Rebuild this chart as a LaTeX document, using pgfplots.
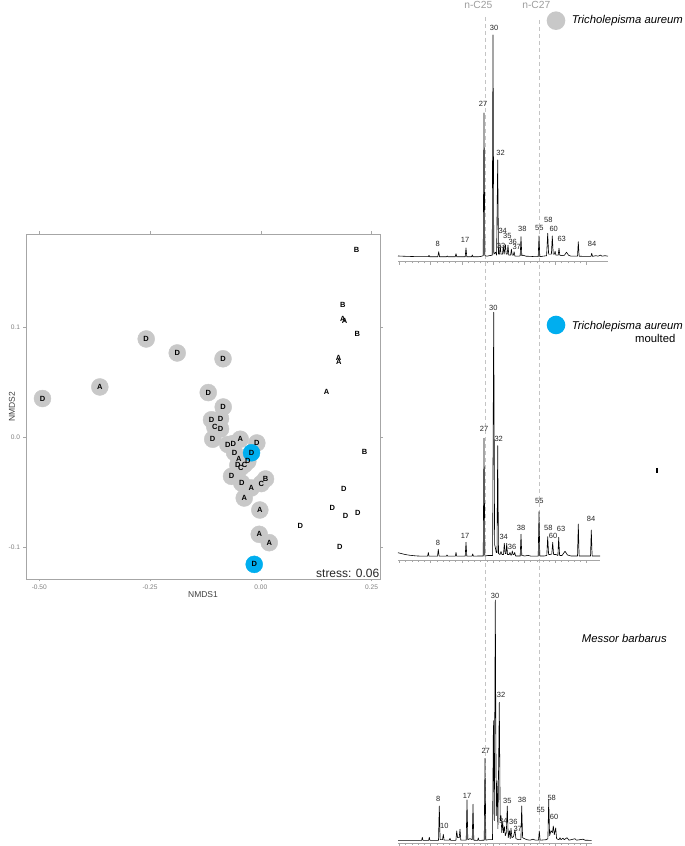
\documentclass[border=0pt]{standalone}
\usepackage{fontspec}
\setmainfont{Liberation Sans}
\usepackage{pgfplots}
\usepackage{pgfplotstable}
\pgfplotsset{compat=1.18}
\definecolor{ptgray}{HTML}{C8C8C8}
\definecolor{ptblue}{HTML}{00AEEF}
\definecolor{framec}{HTML}{A6A6A6}
\definecolor{ticklab}{HTML}{7F7F7F}
\definecolor{dashc}{HTML}{C4C4C4}
\definecolor{labc}{HTML}{404040}

\pgfplotstableread{
x y l
-0.4928 0.0355 D
-0.3634 0.0460 A
-0.2587 0.0896 D
-0.1887 0.0769 D
-0.0853 0.0716 D
-0.1187 0.0409 D
-0.0849 0.0278 D
-0.1113 0.0162 D
-0.0910 0.0173 D
-0.1038 0.0096 C
-0.0910 0.0078 D
-0.1086 -0.0015 D
-0.0745 -0.0063 D
-0.0623 -0.0054 D
-0.0465 -0.0015 A
-0.0090 -0.0049 D
-0.0594 -0.0135 D
-0.0497 -0.0195 A
-0.0519 -0.0252 D
-0.0451 -0.0273 C
-0.0368 -0.0245 C
-0.0293 -0.0215 D
-0.0661 -0.0352 D
-0.0429 -0.0414 D
-0.0217 -0.0458 A
0.0009 -0.0418 C
0.0106 -0.0376 B
-0.0375 -0.0549 A
-0.0023 -0.0658 A
-0.0036 -0.0879 A
0.0190 -0.0955 A
}\graypts

\pgfplotstableread{
x y l
-0.0210 -0.0138 D
-0.0149 -0.1152 D
}\bluepts

\pgfplotstableread{
x y l
0.2160 0.1703 B
0.1851 0.1203 B
0.1851 0.1082 A
0.1889 0.1062 A
0.2176 0.0939 B
0.1754 0.0724 A
0.1761 0.0685 A
0.1483 0.0418 A
0.2341 -0.0127 B
0.1874 -0.0467 D
0.1612 -0.0640 D
0.1912 -0.0709 D
0.2190 -0.0685 D
0.0889 -0.0804 D
0.1783 -0.0995 D
}\plainpts

\pgfplotstableread{
x h
398 1.2
405 0.9
415 0.6
428.2 0.5
429 1.8
429.8 0.4
437.8 0.4
438.7 5.5
439.6 0.4
446.5 0.4
447.3 1.2
448 0.4
455.2 0.4
456 3.5
456.8 0.4
465.2 0.4
466 9.2
466.8 0.4
471.6 0.4
472.3 2.2
473 0.4
479 0.5
481 0.8
483.2 1.5
484 144.2
484.8 1.5
487 1
489 1.5
492.2 2
493 222.2
493.8 3
495.5 5
496.6 2
497.7 97.2
498.5 3
499.5 3
500.2 12
501 3
502.5 3
503.3 11
504.1 3
505.4 12.5
506.2 3
507.2 3
508 12
508.8 2
510.6 2
511.4 8
512.2 2
513.4 2
514.1 5.5
514.9 1
519 1
520.2 1.5
521 20.5
521.8 1.5
523 2
526 1
531 0.8
535 0.5
538.2 0.5
539 21.2
539.8 0.5
543 1
546.6 1.5
547.7 23.9
548.6 3
550 3
551.4 3
552.3 21.2
553.2 3
554.4 3
555.1 6
555.9 2
558.2 2
559 8.9
559.8 2
562 1.5
564.5 2
566.5 5
568.5 2
571 1
577.5 1
578.3 15.5
579.1 1
584 0.8
590.9 0.8
591.7 3.9
592.5 0.8
596 1.5
598 1
600.5 2
602 1
605 1.5
608 1
}\chromA

\pgfplotstableread{
x h l
437.7 13.5 8
465 17.5 17
483 153.5 27
494 229.5 30
500.5 104.5 32
501 11.5 33
502.7 26.5 34
507.3 20.8 35
512.7 15 36
516.7 9.8 37
522.3 28.5 38
539.3 28.8 55
548.3 36.8 58
553.7 28.5 60
561.7 18.2 63
592 13.2 84
}\labA

\pgfplotstableread{
x h
398 3.8
401 3
405 2
410 1.2
416 0.6
422 0.3
427.6 0.3
428.3 4
429 0.3
437.5 0.3
438.3 7.2
439.1 0.3
446.3 0.3
447 1.5
447.7 0.3
455.3 0.3
456 4
456.7 0.3
465.2 0.3
466 14.2
466.8 0.3
472 0.3
472.7 2.5
473.4 0.3
479 0.5
483.2 0.5
484 118.2
484.8 0.5
488 1
492.6 1
493.7 244.2
494.6 12
495.5 8
496.2 4
497 4
497.7 110.8
498.5 3
500 2
501 5
502 2
503.5 2
504.3 13.2
505.2 3
506 3
506.7 13.2
507.5 2
509.2 2
510 4
510.8 1.5
511.6 1.5
512.3 5.5
513.1 2
514 2
514.7 4
515.6 0.5
520.2 0.5
521 22.2
521.8 1
525 0.5
528 1.2
531 0.3
538.2 0.3
539 44.8
539.8 0.5
544 0.5
546.8 1
547.7 19.8
548.6 2
550 2
551.8 2.5
552.7 14.2
553.6 2
556 2
557.9 1
558.7 19.2
559.6 1
562 1
565 5.2
567.5 1.5
571 0.5
577.5 0.5
578.3 32.5
579.1 0.5
590.5 0.5
591.3 26.5
592.1 0.5
596 0.5
600 0.5
}\chromB

\pgfplotstableread{
x h l
438 13.8 8
465 20.8 17
484 127.2 27
493.3 248.8 30
498.7 117.2 32
503.7 19.5 34
512 9.8 36
521 28.2 38
539.3 55.5 55
548.3 28.2 58
553 20.2 60
561 27.2 63
591 37.8 84
}\labB

\pgfplotstableread{
x h
398 0.3
410 0.3
421.6 0.3
422.3 3.4
423 0.3
428.6 0.3
429.3 3.4
430 0.3
434 0.3
438.5 0.3
439.3 34.7
440.1 1
442.5 1
443.3 6.4
444.1 0.5
449.3 0.5
450 2.4
450.7 0.3
455.9 0.3
456.7 9.7
457.6 3
459.2 3
460 11.4
460.8 0.5
466.2 0.5
467 40.7
467.8 1
470 2
472.2 1
473 36.4
473.8 0.5
477.6 0.3
478.3 2.7
479 0.3
484.2 0.5
485 82.4
485.8 0.5
488 1
492.5 1
493.4 120
494.3 20
495.3 240.7
496.2 25
497.1 60
497.9 12
499.3 138.4
500.2 20
501 25
501.8 8
502.7 19
503.5 8
504.4 14
505.3 5
506.3 8
507.3 34.7
508.2 3
509.4 10
510.2 2
511 12.4
511.9 3
513.5 4
515 10.7
515.9 2
518.5 1
520.9 1
521.7 34.7
522.6 3
524.5 2
527 1
530 0.5
533 1.5
535.5 0.5
538.5 0.5
539.3 9.7
540.1 0.5
546 1
547.9 2
548.7 41.4
549.6 5
551 10
552.4 8
553.3 14.7
554.3 6
555.7 12.7
556.6 2
559 1
560 3
561 1
563 2.5
564.2 1
567 3
569 0.5
575 2
576.5 0.5
583 1.5
585 0.5
591.7 0.3
}\chromC

\pgfplotstableread{
x h l
438.3 41.7 8
444.3 14.4 10
467 45 17
485.7 89.7 27
495 245 30
501 145.7 32
503.3 19.7 34
507.3 39.7 35
513.3 19 36
517.7 11.4 37
522 40.4 38
540.7 30.4 55
551.7 43 58
554 23.7 60
}\labC

\pgfplotsset{
  chrom/.style={
    scale only axis, anchor=south west, xmin=398, clip=false,
    axis x line=bottom, axis y line=none,
    x axis line style={-, color=framec, line width=0.6bp},
    xtick={399.5,430.7,461.9,493.1,524.3,555.5,586.7},
    xticklabels={}, minor x tick num=4,
    tick align=outside, major tick length=3bp, minor tick length=1.6bp,
    every tick/.style={framec, line width=0.5bp},
    ytick=\empty,
  },
  peaklab/.style={only marks, mark=none, nodes near coords, point meta=explicit symbolic,
    nodes near coords align=center,
    every node near coord/.append style={font=\fontsize{7.5bp}{8bp}\selectfont, text=black!85, inner sep=0pt}},
  trace/.style={black, line width=0.6bp, line join=round, mark=none},
}

\begin{document}
\begin{tikzpicture}
\path[use as bounding box] (0,0) rectangle (685bp,846bp);

% reference dashed lines
\draw[dashc, line width=0.8bp, dash pattern=on 4bp off 3bp] (485.7bp,829bp) -- (485.7bp,0bp);
\draw[dashc, line width=0.8bp, dash pattern=on 4bp off 3bp] (539.7bp,826bp) -- (539.7bp,0bp);
\node[anchor=base, text=dashc!80!black, font=\fontsize{10.3bp}{11bp}\selectfont, inner sep=0pt] at (478.3bp,837.6bp) {n-C25};
\node[anchor=base, text=dashc!80!black, font=\fontsize{10.3bp}{11bp}\selectfont, inner sep=0pt] at (536.3bp,837.6bp) {n-C27};

% NMDS panel
\begin{axis}[at={(26bp,267bp)}, anchor=south west, scale only axis,
  width=354bp, height=345bp,
  xmin=-0.530, xmax=0.269, ymin=-0.1285, ymax=0.185,
  axis line style={framec, line width=0.8bp},
  xtick={-0.5,-0.25,0,0.25}, xticklabels={-0.50,-0.25,0.00,0.25},
  ytick={-0.1,0,0.1}, yticklabels={-0.1,0.0,0.1},
  tick align=outside, major tick length=2.5bp,
  every tick/.style={framec, line width=0.6bp},
  ticklabel style={font=\fontsize{6.6bp}{7bp}\selectfont, text=ticklab},
  xlabel={NMDS1}, ylabel={NMDS2},
  x label style={at={(axis description cs:0.5,-0.0464)}, anchor=center, font=\fontsize{8.5bp}{9bp}\selectfont, text=labc},
  y label style={at={(axis description cs:-0.0395,0.5)}, anchor=center, font=\fontsize{8.5bp}{9bp}\selectfont, text=labc},
  clip=false]
\addplot[only marks, mark=*, mark size=8.5bp, color=ptgray, mark options={draw=none, fill=ptgray}] table[x=x,y=y] {\graypts};
\addplot[only marks, mark=*, mark size=8.5bp, color=ptblue, mark options={draw=none, fill=ptblue}] table[x=x,y=y] {\bluepts};
\addplot[only marks, mark=none, nodes near coords, point meta=explicit symbolic, nodes near coords align=center,
  every node near coord/.append style={font=\fontsize{7.5bp}{8bp}\selectfont\bfseries, text=black, inner sep=0pt}] table[x=x,y=y,meta=l] {\graypts};
\addplot[only marks, mark=none, nodes near coords, point meta=explicit symbolic, nodes near coords align=center,
  every node near coord/.append style={font=\fontsize{7.5bp}{8bp}\selectfont\bfseries, text=black, inner sep=0pt}] table[x=x,y=y,meta=l] {\bluepts};
\addplot[only marks, mark=none, nodes near coords, point meta=explicit symbolic, nodes near coords align=center,
  every node near coord/.append style={font=\fontsize{7.5bp}{8bp}\selectfont\bfseries, text=black, inner sep=0pt}] table[x=x,y=y,meta=l] {\plainpts};
\end{axis}
\node[anchor=base east, font=\fontsize{12bp}{13bp}\selectfont, text=black!85, inner sep=0pt] at (379.5bp,268.5bp) {stress: 0.06};

% chromatogram 1
\begin{axis}[chrom, at={(398bp,584.3bp)}, width=210bp, xmax=608, ymin=-4.5, ymax=235, height=239.5bp]
\addplot[trace] table[x=x,y=h] {\chromA};
\addplot[peaklab] table[x=x,y=h,meta=l] {\labA};
\end{axis}

% chromatogram 2
\begin{axis}[chrom, at={(398bp,286bp)}, width=202bp, xmax=600, ymin=-3.5, ymax=255, height=258.5bp]
\addplot[trace] table[x=x,y=h] {\chromB};
\addplot[peaklab] table[x=x,y=h,meta=l] {\labB};
\end{axis}

% chromatogram 3
\begin{axis}[chrom, at={(398bp,2.7bp)}, width=193.7bp, xmax=591.7, ymin=-2.6, ymax=250, height=252.6bp]
\addplot[trace] table[x=x,y=h] {\chromC};
\addplot[peaklab] table[x=x,y=h,meta=l] {\labC};
\end{axis}

% legend symbols and species names
\fill[ptgray] (556bp,825.3bp) circle (9.3bp);
\fill[ptblue] (556bp,521bp) circle (9.3bp);
\node[anchor=base west, font=\fontsize{11.3bp}{12bp}\selectfont\itshape, inner sep=0pt] at (571.7bp,822.5bp) {Tricholepisma aureum};
\node[anchor=base west, font=\fontsize{11.3bp}{12bp}\selectfont\itshape, inner sep=0pt] at (571.7bp,516.7bp) {Tricholepisma aureum};
\node[anchor=base, font=\fontsize{11.3bp}{12bp}\selectfont, inner sep=0pt] at (655.3bp,503.3bp) {moulted};
\node[anchor=base, font=\fontsize{11.3bp}{12bp}\selectfont\itshape, inner sep=0pt] at (624.3bp,203.7bp) {Messor barbarus};
\draw[black, line width=1.6bp] (657bp,378bp) -- (657bp,372.5bp);
\end{tikzpicture}
\end{document}
